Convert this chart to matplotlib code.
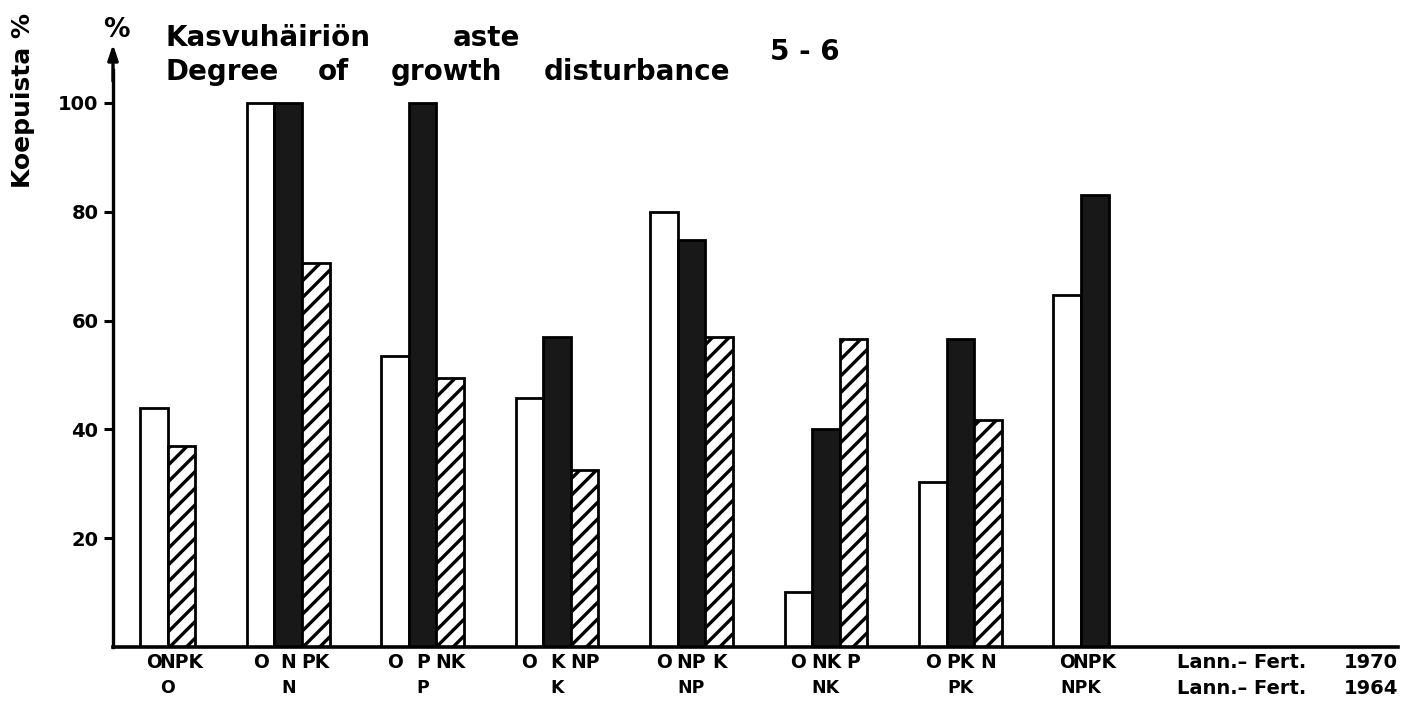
import matplotlib
matplotlib.use('Agg')
import matplotlib.pyplot as plt

# ---------------- data ----------------
groups_1964 = ['O', 'N', 'P', 'K', 'NP', 'NK', 'PK', 'NPK']
labels_1970 = [['O', 'NPK'], ['O', 'N', 'PK'], ['O', 'P', 'NK'], ['O', 'K', 'NP'],
               ['O', 'NP', 'K'], ['O', 'NK', 'P'], ['O', 'PK', 'N'], ['O', 'NPK']]
bar_kinds = [['open', 'hatched'], ['open', 'dark', 'hatched'], ['open', 'dark', 'hatched'],
             ['open', 'dark', 'hatched'], ['open', 'dark', 'hatched'], ['open', 'dark', 'hatched'],
             ['open', 'dark', 'hatched'], ['open', 'dark']]
values = [[44, 37], [100, 100, 70.5], [53.5, 100, 49.5], [45.7, 57, 32.5],
          [80, 74.8, 57], [10.2, 40, 56.6], [30.4, 56.6, 41.7], [64.7, 83]]
ytick_vals = [20, 40, 60, 80, 100]
ytick_labels = ['20', '40', '60', '80', '100']

# ---------------- style ----------------
W, H, DPI = 14.16, 7.11, 100
BOLD = dict(family='DejaVu Sans', fontweight='bold', color='black')
NARROW = dict(family=['Liberation Sans Narrow', 'DejaVu Sans'], fontweight='bold', color='black')
plt.rcParams['hatch.linewidth'] = 2.4

styles = {
    'open': dict(facecolor='white', edgecolor='black', hatch=None),
    'dark': dict(facecolor='#181818', edgecolor='black', hatch=None),
    'hatched': dict(facecolor='white', edgecolor='black', hatch='//'),
}

fig = plt.figure(figsize=(W, H), dpi=DPI)
fig.patch.set_facecolor('white')

px_left, px_right, px_zero = 113, 1398, 647
px_per_unit = 5.44
ytop = 112
ax = fig.add_axes([px_left / 1416, (711 - px_zero) / 711,
                   (px_right - px_left) / 1416, ytop * px_per_unit / 711])

bar_w = 1.0
first_offset = 0.98
gap = 1.87

x = first_offset
for gi, (g, labs, kinds, vals) in enumerate(zip(groups_1964, labels_1970, bar_kinds, values)):
    n = len(vals)
    for j, (lab, kind, v) in enumerate(zip(labs, kinds, vals)):
        left = x + j * bar_w
        st = styles[kind]
        ax.bar(left, v, width=bar_w, align='edge', facecolor=st['facecolor'],
               edgecolor=st['edgecolor'], hatch=st['hatch'], linewidth=2.0, zorder=2)
        ax.annotate(lab, xy=(left + bar_w / 2, 0), xycoords=('data', 'axes fraction'),
                    xytext=(0, -15), textcoords='offset pixels', ha='center', va='center',
                    fontsize=13.5, annotation_clip=False, **NARROW)
    ax.annotate(g, xy=(x + n * bar_w / 2, 0), xycoords=('data', 'axes fraction'),
                xytext=(0, -41), textcoords='offset pixels', ha='center', va='center',
                fontsize=12.5, annotation_clip=False, **BOLD)
    x += n * bar_w + gap

xmax = (px_right - px_left) / 27.6
ax.set_xlim(0, xmax)
ax.set_ylim(0, ytop)

for s in ['top', 'right']:
    ax.spines[s].set_visible(False)
ax.spines['bottom'].set_linewidth(2.6)
ax.spines['left'].set_linewidth(2.4)
ax.spines['left'].set_bounds(0, 106)
ax.annotate('', xy=(0, 110.8), xycoords=('axes fraction', 'data'),
            xytext=(0, 104), textcoords=('axes fraction', 'data'),
            arrowprops=dict(arrowstyle='-|>,head_length=0.9,head_width=0.3',
                            color='black', lw=2.4, shrinkA=0, shrinkB=0),
            annotation_clip=False)

ax.set_xticks([])
ax.set_yticks(ytick_vals)
ax.set_yticklabels(ytick_labels, fontsize=14, fontweight='bold', family='DejaVu Sans')
ax.tick_params(axis='y', direction='out', length=6.5, width=2.2, pad=4)

# ---------------- texts ----------------
def ftext(px, py, s, size, ha='left', va='baseline', **kw):
    fig.text(px / 1416, 1 - py / 711, s, fontsize=size, ha=ha, va=va, **kw)

ftext(165, 46, 'Kasvuhäiriön', 20, **BOLD)
ftext(453, 46, 'aste', 20, **BOLD)
ftext(165, 80, 'Degree', 20, **BOLD)
ftext(318, 80, 'of', 20, **BOLD)
ftext(391, 80, 'growth', 20, **BOLD)
ftext(544, 80, 'disturbance', 20, **BOLD)
ftext(805, 52, '5 - 6', 20, ha='center', va='center', **BOLD)
ftext(116, 30, '%', 19, ha='center', va='center', **BOLD)
fig.text(23 / 1416, 1 - 188 / 711, 'Koepuista %', fontsize=18, rotation=90,
         ha='center', va='bottom', **BOLD)

ftext(1177, 662, 'Lann.– Fert.', 14, va='center', **BOLD)
ftext(1398, 662, '1970', 14, ha='right', va='center', **BOLD)
ftext(1177, 688, 'Lann.– Fert.', 14, va='center', **BOLD)
ftext(1398, 688, '1964', 14, ha='right', va='center', **BOLD)

fig.savefig('out.png', dpi=DPI, facecolor='white')
